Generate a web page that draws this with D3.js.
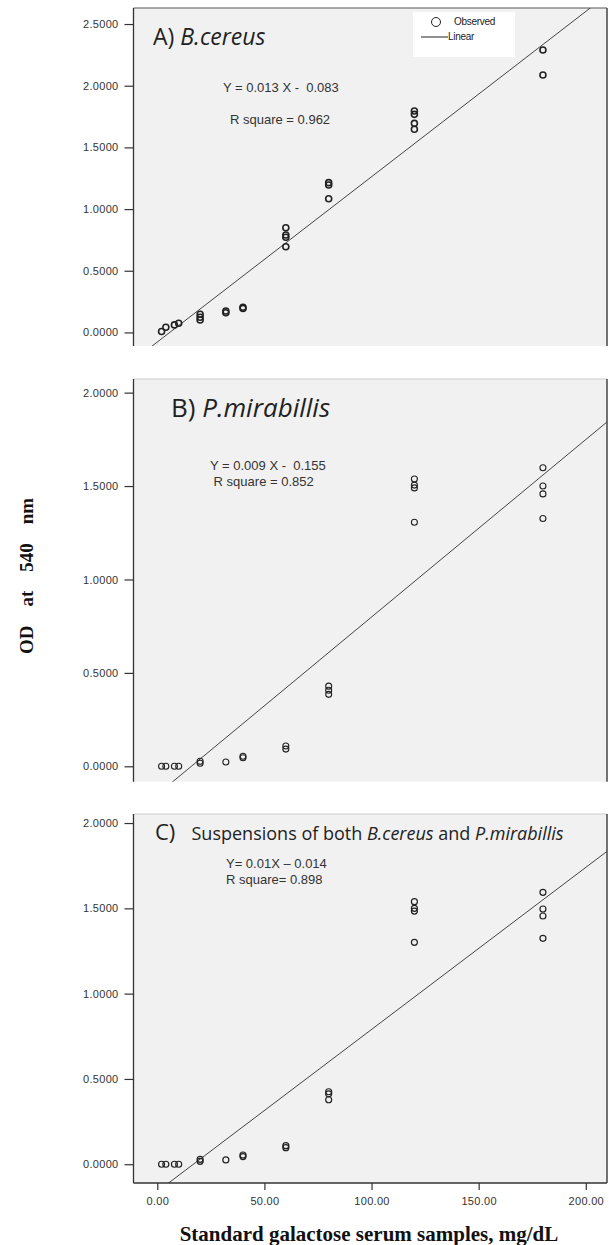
<!DOCTYPE html>
<html>
<head>
<meta charset="utf-8">
<script src="https://cdn.jsdelivr.net/npm/d3@7"></script>
<style>
  body { margin: 0; background: #fff; }
  text { white-space: pre; }
  .tick text { font-family: "Liberation Sans", Arial, sans-serif; font-size: 11px; fill: #333; letter-spacing: 0.3px; }
  .tick line { stroke: #333; stroke-width: 1.2; }
</style>
</head>
<body>
<svg id="chart" width="609" height="1245"></svg>
<script>
// ---- data ----
var concTicks = [0, 50, 100, 150, 200];
var odTicksA = [0, 0.5, 1, 1.5, 2, 2.5];
var odTicksBC = [0, 0.5, 1, 1.5, 2];

// [galactose mg/dL, OD 540]
var pointsA = [
  [2, 0.007], [4, 0.042], [8, 0.061], [10, 0.074],
  [20, 0.147], [20, 0.123], [20, 0.101],
  [32, 0.174], [32, 0.160],
  [40, 0.204], [40, 0.195],
  [60, 0.849], [60, 0.790], [60, 0.771], [60, 0.695],
  [80, 1.214], [80, 1.195], [80, 1.084],
  [120, 1.795], [120, 1.768], [120, 1.695], [120, 1.647],
  [180, 2.289], [180, 2.087]
];
var pointsB = [
  [2, 0], [4, 0], [8, 0], [10, 0],
  [20, 0.027], [20, 0.016],
  [32, 0.023],
  [40, 0.054], [40, 0.046],
  [60, 0.109], [60, 0.092],
  [80, 0.429], [80, 0.407], [80, 0.385],
  [120, 1.538], [120, 1.505], [120, 1.490], [120, 1.306],
  [180, 1.598], [180, 1.500], [180, 1.458], [180, 1.326]
];
var pointsC = [
  [2, 0], [4, 0], [8, 0], [10, 0],
  [20, 0.029], [20, 0.017],
  [32, 0.025],
  [40, 0.054], [40, 0.045],
  [60, 0.109], [60, 0.097],
  [80, 0.425], [80, 0.413], [80, 0.378],
  [120, 1.539], [120, 1.500], [120, 1.484], [120, 1.301],
  [180, 1.594], [180, 1.496], [180, 1.455], [180, 1.324]
];

// fitted lines as drawn: [slope, intercept]
var fitA = [0.0134, -0.078];
var fitB = [0.0095, -0.151];
var fitC = [0.0095, -0.160];

var eqA = ['Y = 0.013 X -  0.083', 'R square = 0.962'];
var eqB = ['Y = 0.009 X -  0.155', ' R square = 0.852'];
var eqC = ['Y= 0.01X \u2013 0.014', 'R square= 0.898'];

// ---- drawing ----
var svg = d3.select('#chart');
var left = 133.5, right = 607;
var x = d3.scaleLinear().domain([-11.1, 209.9]).range([left, right]);

var panels = [
  { key: 'a', top: 8, bottom: 346, yDom: [-0.11, 2.63], ticks: odTicksA, pts: pointsA, fit: fitA,
    eq: eqA, eqAt: [[223, 92], [230, 124]], r: 3, sw: 1.6 },
  { key: 'b', top: 379, bottom: 781.7, yDom: [-0.0824, 2.073], ticks: odTicksBC, pts: pointsB, fit: fitB,
    eq: eqB, eqAt: [[210, 470], [210, 486]], r: 3, sw: 1.1 },
  { key: 'c', top: 814, bottom: 1183, yDom: [-0.11, 2.053], ticks: odTicksBC, pts: pointsC, fit: fitC,
    eq: eqC, eqAt: [[226, 868], [226, 883.5]], r: 3, sw: 1.2 }
];

panels.forEach(function (p) {
  var y = d3.scaleLinear().domain(p.yDom).range([p.bottom, p.top]);
  var g = svg.append('g');

  g.append('rect')
    .attr('x', left).attr('y', p.top)
    .attr('width', right - left).attr('height', p.bottom - p.top)
    .attr('fill', '#f1f1f1');

  g.append('clipPath').attr('id', 'clip-' + p.key)
    .append('rect')
    .attr('x', left).attr('y', p.top)
    .attr('width', right - left).attr('height', p.bottom - p.top);

  // frame
  g.append('line').attr('x1', left).attr('x2', right).attr('y1', p.top).attr('y2', p.top)
    .attr('stroke', p.key == 'a' ? '#555' : '#ccc').attr('stroke-width', 1);
  g.append('line').attr('x1', right).attr('x2', right).attr('y1', p.top).attr('y2', p.bottom)
    .attr('stroke', '#444').attr('stroke-width', 1.5);
  g.append('line').attr('x1', left).attr('x2', left).attr('y1', p.top).attr('y2', p.bottom)
    .attr('stroke', '#333').attr('stroke-width', 1.3);

  var ax = g.append('g')
    .attr('transform', 'translate(' + left + ',0)')
    .call(d3.axisLeft(y).tickValues(p.ticks).tickFormat(d3.format('.4f')).tickSize(9).tickPadding(6));
  ax.select('.domain').remove();

  // regression line
  var xd = x.domain();
  g.append('line')
    .attr('clip-path', 'url(#clip-' + p.key + ')')
    .attr('x1', x(xd[0])).attr('y1', y(p.fit[0] * xd[0] + p.fit[1]))
    .attr('x2', x(xd[1])).attr('y2', y(p.fit[0] * xd[1] + p.fit[1]))
    .attr('stroke', '#444').attr('stroke-width', 1);

  g.selectAll('circle.obs').data(p.pts).enter()
    .append('circle').attr('class', 'obs')
    .attr('cx', function (d) { return x(d[0]); })
    .attr('cy', function (d) { return y(d[1]); })
    .attr('r', p.r)
    .attr('fill', 'none')
    .attr('stroke', '#222')
    .attr('stroke-width', p.sw);

  p.eq.forEach(function (s, i) {
    g.append('text')
      .attr('x', p.eqAt[i][0]).attr('y', p.eqAt[i][1])
      .attr('font-family', 'Liberation Sans, Arial, sans-serif')
      .attr('font-size', 13)
      .attr('fill', '#333')
      .text(s);
  });

  if (p.key == 'c') {
    g.append('line').attr('x1', left).attr('x2', right).attr('y1', p.bottom).attr('y2', p.bottom)
      .attr('stroke', '#333').attr('stroke-width', 1.3);
    var xa = g.append('g')
      .attr('transform', 'translate(0,' + p.bottom + ')')
      .call(d3.axisBottom(x).tickValues(concTicks).tickFormat(d3.format('.2f')).tickSize(7).tickPadding(7));
    xa.select('.domain').remove();
  }
});

// panel titles
var titleFont = '"Open Sans", "Noto Sans", sans-serif';
var tA = svg.append('text').attr('x', 153).attr('y', 45)
  .attr('font-family', titleFont).attr('font-size', 23).attr('fill', '#222');
tA.append('tspan').text('A) ');
tA.append('tspan').attr('font-style', 'italic').text('B.cereus');

var tB = svg.append('text').attr('x', 171).attr('y', 417)
  .attr('font-family', titleFont).attr('font-size', 26).attr('fill', '#222');
tB.append('tspan').text('B) ');
tB.append('tspan').attr('font-style', 'italic').text('P.mirabillis');

svg.append('text').attr('x', 155).attr('y', 840)
  .attr('font-family', titleFont).attr('font-size', 22).attr('fill', '#222')
  .text('C)');
var tC = svg.append('text').attr('x', 191.5).attr('y', 840)
  .attr('font-family', titleFont).attr('font-size', 18).attr('fill', '#222');
tC.append('tspan').text('Suspensions of both ');
tC.append('tspan').attr('font-style', 'italic').text('B.cereus');
tC.append('tspan').text(' and ');
tC.append('tspan').attr('font-style', 'italic').text('P.mirabillis');

// legend (panel A)
var lg = svg.append('g');
lg.append('rect').attr('x', 413).attr('y', 12).attr('width', 102).attr('height', 45).attr('fill', '#fff');
lg.append('circle').attr('cx', 436).attr('cy', 22).attr('r', 4.5)
  .attr('fill', 'none').attr('stroke', '#222').attr('stroke-width', 1);
lg.append('text').attr('x', 454).attr('y', 25).attr('font-family', 'Liberation Sans, Arial, sans-serif')
  .attr('font-size', 10).attr('letter-spacing', -0.3).attr('fill', '#222').text('Observed');
lg.append('line').attr('x1', 421).attr('x2', 448).attr('y1', 37).attr('y2', 37)
  .attr('stroke', '#222').attr('stroke-width', 1);
lg.append('text').attr('x', 448).attr('y', 40).attr('font-family', 'Liberation Sans, Arial, sans-serif')
  .attr('font-size', 10).attr('letter-spacing', -0.3).attr('fill', '#222').text('Linear');

// axis titles
svg.append('text')
  .attr('transform', 'translate(33,576) rotate(-90)')
  .attr('text-anchor', 'middle')
  .attr('font-family', '"Liberation Serif", "Times New Roman", serif')
  .attr('font-weight', 'bold').attr('font-size', 19).attr('fill', '#111')
  .text('OD    at    540    nm');

svg.append('text')
  .attr('x', 369).attr('y', 1241)
  .attr('text-anchor', 'middle')
  .attr('font-family', '"Liberation Serif", "Times New Roman", serif')
  .attr('font-weight', 'bold').attr('font-size', 21).attr('fill', '#111')
  .text('Standard galactose serum samples, mg/dL');
</script>
</body>
</html>
